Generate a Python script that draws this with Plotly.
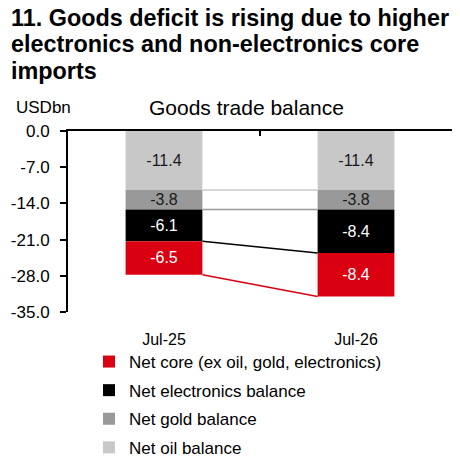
import plotly.graph_objects as go

# Data (USDbn)
categories = ["Jul-25", "Jul-26"]
oil_balance = [-11.4, -11.4]
gold_balance = [-3.8, -3.8]
electronics_balance = [-6.1, -8.4]
core_balance = [-6.5, -8.4]
y_ticks = [0.0, -7.0, -14.0, -21.0, -28.0, -35.0]

title_lines = ["11. Goods deficit is rising due to higher",
               "electronics and non-electronics core",
               "imports"]

FONT = "Liberation Sans, Arial, sans-serif"
# the page body adds an 8px margin, so the figure is 8px smaller than the window
W, H = 452, 449
M_L, M_R, M_T, M_B = 60, 8, 123, 0
AXIS_BOTTOM = 304  # pixel row of the -35 end of the y axis
BAR_W = 0.4

# series stacked from zero downwards: name, values, colour, label colour, legend rank
series = [
    ("Net oil balance", oil_balance, "#c8c8c8", "#1a1a1a", 4),
    ("Net gold balance", gold_balance, "#999999", "#1a1a1a", 3),
    ("Net electronics balance", electronics_balance, "#000000", "#ffffff", 2),
    ("Net core (ex oil, gold, electronics)", core_balance, "#db0011", "#ffffff", 1),
]

xpos = [i + 0.5 for i in range(len(categories))]


def px_to_paper_x(px):
    return (px - M_L) / (W - M_L - M_R)


def px_to_paper_y(py):
    return (H - M_B - py) / (H - M_T - M_B)


fig = go.Figure()

running = [0.0] * len(categories)
for name, vals, color, txtcolor, rank in series:
    fig.add_trace(go.Bar(
        x=xpos, y=vals, width=BAR_W, name=name, legendgroup=name, legendrank=rank,
        marker=dict(color=color, line=dict(width=0)),
        text=[f"{v:.1f}" for v in vals], textposition="inside",
        insidetextanchor="middle", textangle=0,
        textfont=dict(family=FONT, size=16, color=txtcolor),
        hoverinfo="skip",
    ))
    running = [r + v for r, v in zip(running, vals)]
    # connector between bar bottoms
    fig.add_trace(go.Scatter(
        x=[xpos[0] + BAR_W / 2, xpos[1] - BAR_W / 2], y=running,
        mode="lines", line=dict(color=color, width=1.5),
        showlegend=False, hoverinfo="skip", xaxis="x2",
    ))

fig.update_layout(
    template="none",
    width=W, height=H,
    margin=dict(l=M_L, r=M_R, t=M_T, b=M_B, pad=0, autoexpand=False),
    paper_bgcolor="white", plot_bgcolor="rgba(0,0,0,0)",
    barmode="relative",
    font=dict(family=FONT, size=16, color="#000000"),
    uniformtext=dict(minsize=16, mode="show"),
    showlegend=True,
    legend=dict(
        x=px_to_paper_x(81), y=px_to_paper_y(457), xanchor="left", yanchor="bottom",
        traceorder="grouped", tracegroupgap=3.5,
        font=dict(family=FONT, size=17, color="#000000"),
        bgcolor="rgba(0,0,0,0)", borderwidth=0,
    ),
    xaxis=dict(
        range=[0, 2], tickvals=xpos, ticktext=categories, automargin=False,
        showline=False, showgrid=False, zeroline=False, ticks="", tickangle=0,
        tickfont=dict(size=16), ticklabelstandoff=16, fixedrange=True,
    ),
    xaxis2=dict(
        overlaying="x", side="top", anchor="y", range=[0, 2], automargin=False,
        tickvals=[0, 1, 2], ticks="inside", ticklen=5, tickwidth=2,
        tickcolor="#000000", showline=True, linewidth=2, linecolor="#000000",
        showticklabels=False, showgrid=False, zeroline=False,
    ),
    yaxis=dict(
        domain=[px_to_paper_y(AXIS_BOTTOM), 1],
        range=[-35, 0], tickvals=y_ticks, ticktext=[f"{v:.1f}" for v in y_ticks],
        ticks="outside", ticklen=6, tickwidth=2, tickcolor="#000000",
        showline=True, linewidth=2, linecolor="#000000", automargin=False,
        showgrid=False, zeroline=False, tickfont=dict(size=17),
        ticklabelstandoff=7,
    ),
)

# title lines (centres in pixels)
for line, cy in zip(title_lines, [10, 36, 63]):
    fig.add_annotation(
        text=f"<b>{line}</b>", xref="paper", yref="paper",
        x=px_to_paper_x(1), y=px_to_paper_y(cy), xanchor="left", yanchor="middle",
        showarrow=False, font=dict(family=FONT, size=23.4, color="#000000"),
    )

fig.add_annotation(
    text="USDbn", xref="paper", yref="paper",
    x=px_to_paper_x(35), y=px_to_paper_y(99), xanchor="center", yanchor="middle",
    showarrow=False, font=dict(family=FONT, size=17, color="#000000"),
)
fig.add_annotation(
    text="Goods trade balance", xref="paper", yref="paper",
    x=px_to_paper_x(238), y=px_to_paper_y(99), xanchor="center", yanchor="middle",
    showarrow=False, font=dict(family=FONT, size=21, color="#000000"),
)

fig.write_html("out.html")
